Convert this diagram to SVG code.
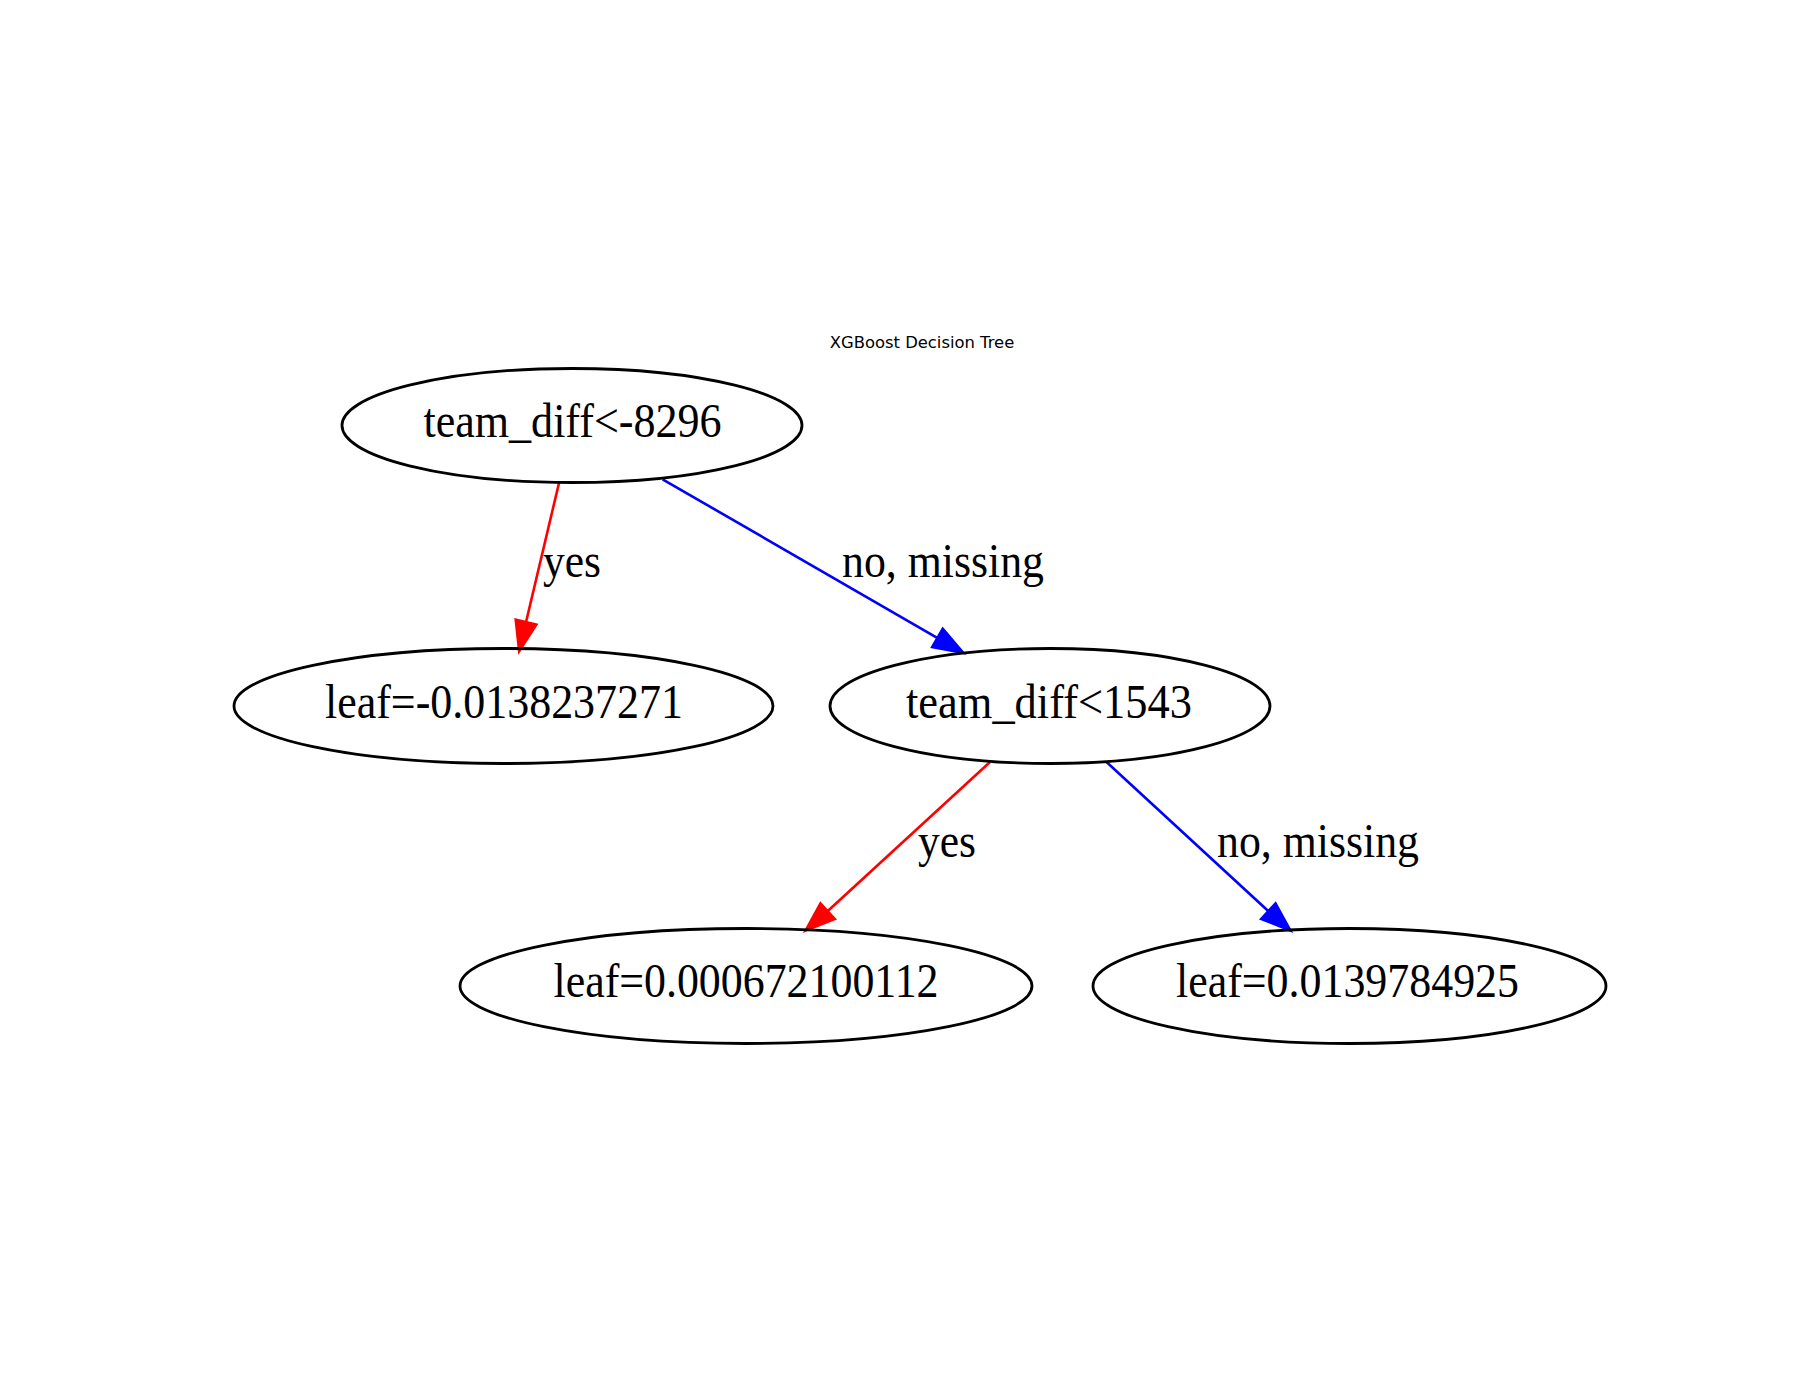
<svg xmlns="http://www.w3.org/2000/svg" width="1800" height="1400" viewBox="0 0 1800 1400">
<style>
.node ellipse{fill:none;stroke:#000;stroke-width:2.8}
.node text{font-family:"Liberation Serif","Times New Roman",serif;font-size:48px;fill:#000;text-anchor:middle}
.lbl{font-family:"Liberation Serif","Times New Roman",serif;font-size:48px;fill:#000}
.yes{stroke:#ff0000;stroke-width:2.6;fill:none}
.no{stroke:#0000ff;stroke-width:2.6;fill:none}
.yesh{fill:#ff0000;stroke:#ff0000;stroke-width:2}
.noh{fill:#0000ff;stroke:#0000ff;stroke-width:2}
.title{font-family:"DejaVu Sans",sans-serif;font-size:16.4px;fill:#000;text-anchor:middle}
</style>
<rect width="1800" height="1400" fill="#fff"/>
<text class="title" x="922" y="348">XGBoost Decision Tree</text>
<g id="connectors">
  <line class="yes" x1="559" y1="483" x2="526.1" y2="621.8"/>
  <polygon class="yesh" points="519,652 536.8,624.3 515.4,619.3"/>
  <text class="lbl" x="543" y="577" textLength="58" lengthAdjust="spacingAndGlyphs">yes</text>
  <line class="no" x1="662.6" y1="479.3" x2="937.2" y2="637.8"/>
  <polygon class="noh" points="964,653.3 931.7,647.3 942.7,628.3"/>
  <text class="lbl" x="842" y="577" textLength="202" lengthAdjust="spacingAndGlyphs">no, missing</text>
  <line class="yes" x1="990" y1="762" x2="827.8" y2="911"/>
  <polygon class="yesh" points="805,931 835.3,919.1 820.4,902.9"/>
  <text class="lbl" x="918" y="857" textLength="58" lengthAdjust="spacingAndGlyphs">yes</text>
  <line class="no" x1="1106.5" y1="762" x2="1268.2" y2="911"/>
  <polygon class="noh" points="1291,931 1260.7,919.1 1275.6,902.9"/>
  <text class="lbl" x="1217" y="857" textLength="202" lengthAdjust="spacingAndGlyphs">no, missing</text>
</g>
<g id="node0" class="node">
  <ellipse cx="572" cy="425.5" rx="230" ry="57"/>
  <text x="572.5" y="437" textLength="298" lengthAdjust="spacingAndGlyphs">team_diff&lt;-8296</text>
</g>
<g id="node1" class="node">
  <ellipse cx="503.5" cy="706" rx="269.5" ry="57.5"/>
  <text x="504" y="717.5" textLength="358" lengthAdjust="spacingAndGlyphs">leaf=-0.0138237271</text>
</g>
<g id="node2" class="node">
  <ellipse cx="1050" cy="706" rx="220" ry="57.5"/>
  <text x="1049" y="717.5" textLength="286" lengthAdjust="spacingAndGlyphs">team_diff&lt;1543</text>
</g>
<g id="node3" class="node">
  <ellipse cx="746" cy="986" rx="286" ry="57.5"/>
  <text x="746" y="997" textLength="385" lengthAdjust="spacingAndGlyphs">leaf=0.000672100112</text>
</g>
<g id="node4" class="node">
  <ellipse cx="1349.5" cy="986" rx="256.5" ry="57.5"/>
  <text x="1347.5" y="997" textLength="343" lengthAdjust="spacingAndGlyphs">leaf=0.0139784925</text>
</g>
</svg>
